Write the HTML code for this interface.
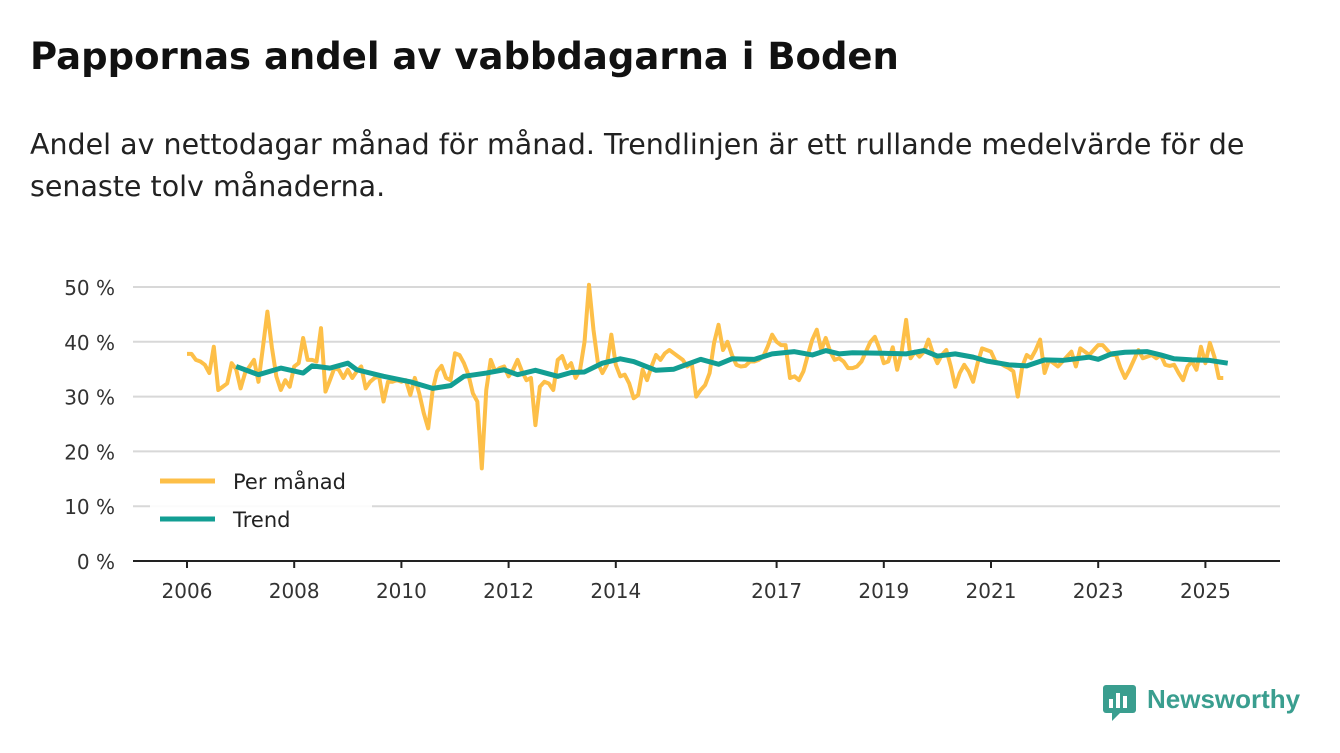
<!DOCTYPE html>
<html><head><meta charset="utf-8"><style>
body{margin:0;width:1340px;height:753px;background:#fff;font-family:"DejaVu Sans","Liberation Sans",sans-serif;color:#111;overflow:hidden;position:relative}
h1{position:absolute;left:30px;top:35px;margin:0;font-size:37px;font-weight:bold}
p{position:absolute;left:30px;top:124px;margin:0;font-size:28.5px;line-height:42px;width:1240px;color:#222}
svg{position:absolute;left:0;top:0}
</style></head><body>
<h1>Pappornas andel av vabbdagarna i Boden</h1>
<p>Andel av nettodagar månad för månad. Trendlinjen är ett rullande medelvärde för de senaste tolv månaderna.</p>
<svg id="chart" width="1340" height="753"></svg>
<script>
const yTicks=[0,10,20,30,40,50];
const xTickYears=[2006,2008,2010,2012,2014,2017,2019,2021,2023,2025];
const startYear=2006;
const monthly=[
37.8,37.8,36.7,36.4,35.8,34.3,39.1,31.2,31.8,32.4,36.1,35,
31.5,34.3,35.5,36.7,32.7,39,45.5,39,33.7,31.2,33,31.8,
35.5,36.1,40.7,36.7,36.7,36.4,42.5,30.9,33,35.2,34.9,33.4,
34.9,33.4,34.6,35.5,31.5,32.7,33.4,33.7,29.1,32.7,32.7,33,
32.7,33,30.3,33.4,30.6,27,24.2,31.2,34.6,35.6,33.4,33,
37.9,37.6,36.1,34,30.6,29.1,16.9,31.2,36.7,34.6,35.2,35.5,
33.7,34.9,36.7,34.6,33,33.4,24.8,31.8,32.7,32.4,31.2,36.7,
37.4,35.2,36.1,33.4,34.9,40,50.4,42.2,36.1,34.3,35.8,41.3,
35.8,33.7,34,32.4,29.7,30.3,34.9,33,35.5,37.6,36.7,37.9,
38.5,37.9,37.3,36.7,35.5,36.1,30,31.2,32.1,34.3,39.8,43.1,
38.5,40,37.6,35.8,35.5,35.6,36.4,36.4,36.7,37.3,39.1,41.3,
40,39.4,39.4,33.4,33.7,33,34.6,37.6,40.4,42.2,38.5,40.7,
38.2,36.7,37,36.4,35.2,35.2,35.5,36.4,38.2,40,40.9,38.8,
36.1,36.4,39,34.9,38.2,44,37,38.2,37.3,38.2,40.4,37.9,
36.1,37.6,38.5,35.5,31.8,34.3,35.8,34.6,32.7,36.1,38.8,38.5,
38.2,36.4,36.1,35.6,35.2,34.6,30,35.5,37.6,37,38.5,40.4,
34.3,36.7,36.1,35.5,36.4,37.3,38.2,35.5,38.8,38.2,37.6,38.5,
39.4,39.4,38.5,37.6,37.6,35.2,33.4,34.9,36.7,38.5,37,37.3,
37.6,37,37.6,35.8,35.6,35.8,34.3,33,35.5,36.4,34.9,39.1,
36.1,39.8,37.3,33.4,33.4];
const trendMonths=[11,16,21,26,28,32,36,38,44,50,55,59,62,67,71,74,78,83,86,89,93,97,100,105,109,115,119,122,127,131,136,140,143,146,149,156,161,165,168,172,176,179,184,188,192,196,202,204,207,210,215,218,221,225,229,233];
const trendValues=[35.5,34,35.2,34.3,35.6,35.2,36.1,34.9,33.7,32.7,31.5,32,33.7,34.3,34.9,34,34.8,33.7,34.4,34.5,36.1,36.9,36.4,34.8,35,36.8,35.9,36.9,36.8,37.8,38.2,37.6,38.4,37.8,38,37.9,37.8,38.4,37.4,37.8,37.2,36.5,35.8,35.6,36.7,36.6,37.2,36.8,37.8,38.1,38.2,37.6,36.9,36.7,36.6,36.1];

const NS="http://www.w3.org/2000/svg";
const svg=document.getElementById('chart');
const x=m=>187+m*(53.6/12);
const y=v=>561-v*5.48;
function el(t,a){const e=document.createElementNS(NS,t);for(const k in a)e.setAttribute(k,a[k]);svg.appendChild(e);return e;}
yTicks.forEach(v=>{
  if(v>0){const g=el('line',{x1:133,x2:1280,y1:y(v),y2:y(v),stroke:'#d8d8d8','stroke-width':2});
  
  }
  const t=el('text',{x:115,y:y(v)+8,'text-anchor':'end','font-size':20,fill:'#333'});t.textContent=v+' %';
  
  
});
const ax=el('line',{x1:133,x2:1280,y1:561,y2:561,stroke:'#222','stroke-width':2});


xTickYears.forEach(yr=>{
  const xx=x((yr-startYear)*12);
  const tk=el('line',{x1:xx,x2:xx,y1:561,y2:568,stroke:'#222','stroke-width':2});
  
  
  const t=el('text',{x:xx,y:598,'text-anchor':'middle','font-size':20,fill:'#333'});t.textContent=yr;
  
  
});
const mp=el('polyline',{points:monthly.map((v,i)=>x(i)+','+y(v)).join(' '),fill:'none',stroke:'#fdbf48','stroke-width':4,'stroke-linejoin':'round'});


const tp=el('polyline',{points:trendValues.map((v,i)=>x(trendMonths[i])+','+y(v)).join(' '),fill:'none',stroke:'#129e93','stroke-width':5,'stroke-linejoin':'round'});


const bg=el('rect',{x:150,y:460,width:222,height:80,fill:'#fff',opacity:0.9});


[['Per månad','#fdbf48',481],['Trend','#129e93',519]].forEach(([n,c,yy])=>{
  const l=el('line',{x1:160,x2:215,y1:yy,y2:yy,stroke:c,'stroke-width':5});
  
  
  const t=el('text',{x:233,y:yy+8,'font-size':21,fill:'#222'});t.textContent=n;
  
  
});
</script>
<svg width="1340" height="753" style="pointer-events:none">
<rect x="1103" y="685" width="33" height="28" rx="3" fill="#3a9e8f"/>
<polygon points="1112,713 1120,713 1112,721" fill="#3a9e8f"/>
<rect x="1109" y="699" width="4" height="9" fill="#fff"/><rect x="1116" y="693" width="4" height="15" fill="#fff"/><rect x="1123" y="696" width="4" height="12" fill="#fff"/>
<text x="1147" y="708" font-size="26" font-weight="bold" fill="#3a9e8f" font-family="Liberation Sans, sans-serif">Newsworthy</text>
</svg>
</body></html>
